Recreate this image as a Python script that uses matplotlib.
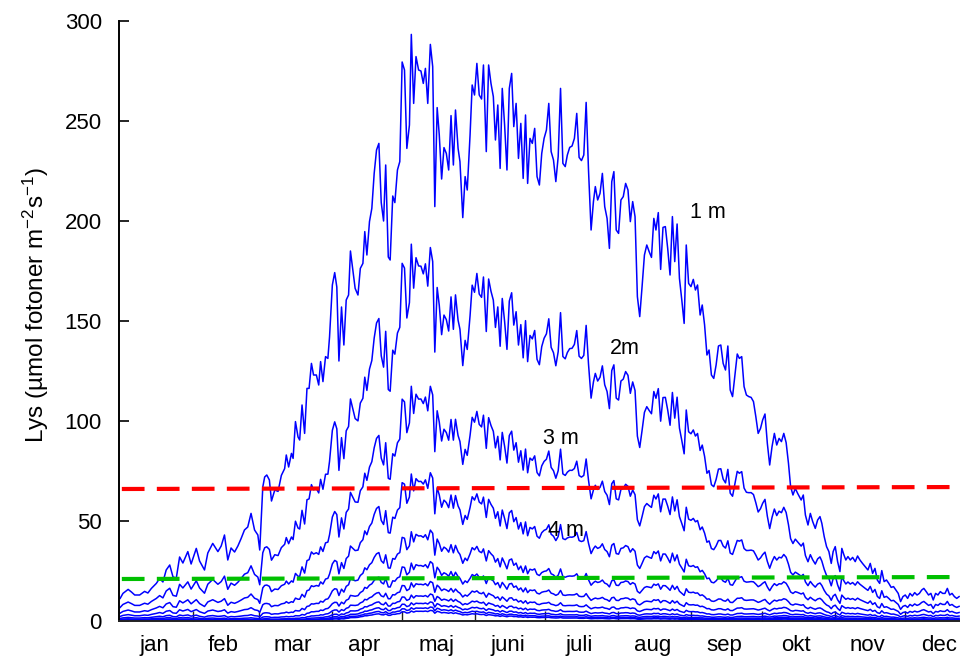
import matplotlib
matplotlib.use("Agg")
import matplotlib.pyplot as plt
import numpy as np

plt.rcParams['font.family'] = ['Liberation Sans', 'DejaVu Sans']
plt.rcParams['mathtext.fontset'] = 'custom'
plt.rcParams['mathtext.rm'] = 'Liberation Sans'
plt.rcParams['mathtext.it'] = 'Liberation Sans'
plt.rcParams['mathtext.default'] = 'regular'

# ---- data -----------------------------------------------------------
# light at 1 m depth (day of year, µmol photons m-2 s-1)
days_1m = [0, 1.2, 3.4, 4.8, 6.2, 8.3, 10.4, 11.8, 13.3, 15.4, 16.8, 18.2, 19.6, 21.1, 22.5,
           23.9, 25.3, 26.7, 28.8, 30.2, 32.4, 33.8, 35.9, 37.3, 39.4, 41.6, 43, 44.4, 45.8,
           47.2, 48.7, 50.1, 51.5, 52.9, 54.3, 55.7, 57.2, 58.6, 59.4, 60.7, 61.5, 62.4, 63.5,
           64.4, 65.8, 67.2, 68.6, 70.0, 70.7, 71.7, 72.9, 73.6, 74.6, 75.7, 76.4, 77.4, 78.5,
           79.5, 80.4, 81.4, 82.3, 83.5, 84.5, 85.3, 86.3, 87.4, 88.4, 89.1, 90.3, 91.3, 92.2,
           93.1, 94.2, 95.2, 96.2, 97.2, 98.0, 99.0, 100.0, 101.2, 102.2, 103.3, 104.1, 105,
           106.1, 107.1, 108.1, 109.1, 110.1, 111.1, 112.1, 113.0, 114.1, 114.9, 116.0, 116.9,
           118.0, 119.0, 120.0, 121.0, 122.0, 123.1, 123.9, 124.9, 125.9, 127, 128, 129, 129.9,
           130.9, 132, 133, 133.9, 134.9, 135.8, 136.8, 137.8, 138.8, 139.8, 140.8, 141.8, 142.7,
           143.8, 144.6, 145.8, 146.8, 147.7, 148.9, 149.8, 150.8, 151.8, 152.8, 153.8, 154.6,
           155.8, 156.8, 157.8, 158.8, 159.7, 160.7, 161.7, 162.6, 163.6, 164.6, 165.6, 166.6,
           167.5, 168.5, 169.5, 170.5, 171.5, 172.5, 173.4, 174.4, 175.4, 176.4, 177.4, 178.4,
           179.4, 180.4, 181.4, 182.4, 183.4, 184.4, 185.4, 186.4, 187.4, 188.4, 189.4, 190.3,
           191.3, 192.3, 193.3, 194.3, 195.3, 196.3, 197.3, 198.3, 199.3, 200.4, 201.4, 202.2,
           203.2, 204.2, 205.2, 206.2, 207.2, 208.2, 209.2, 210.1, 211.1, 212.1, 213.1, 214.1,
           215.1, 216.1, 217.1, 218.1, 219.1, 220.1, 221.1, 222.1, 223.1, 224.1, 225.1, 226.1,
           227.1, 228, 229, 230, 231, 232, 233, 234, 235, 236, 237, 238, 239, 240, 240.9, 241.9,
           242.9, 243.9, 244.8, 245.7, 246.8, 247.7, 248.7, 249.7, 250.6, 251.6, 252.6, 253.6,
           254.6, 255.6, 256.6, 257.6, 258.6, 259.6, 260.6, 261.6, 262.6, 263.5, 264.5, 265.5,
           266.5, 267.5, 268.5, 269.5, 270.5, 271.5, 272.5, 273.4, 274.4, 275.4, 276.4, 277.4,
           278.4, 279.4, 280.4, 281.4, 282.4, 283.4, 284.4, 285.3, 286.3, 287.3, 288.3, 289.8,
           290.7, 291.6, 292.7, 293.7, 294.7, 295.8, 296.8, 297.8, 298.6, 299.6, 300.6, 301.6,
           302.6, 303.4, 304.3, 305.3, 306.3, 307.1, 308, 308.8, 309.7, 310.7, 311.7, 312.8,
           313.8, 314.8, 315.9, 317, 318.2, 319.2, 320.2, 321.2, 322.2, 323.2, 324.1, 325.1,
           326.1, 327.1, 328.1, 329.1, 330.1, 331.1, 332.1, 333.1, 334.1, 335.1, 336.1, 337.1,
           338.1, 339.1, 340.1, 341.1, 342, 343, 344, 345, 346, 347, 348, 349, 350, 351, 352,
           353, 354, 355, 356, 357]
light_1m = [11.3, 13.8, 15.8, 14.5, 13, 13, 14.8, 14, 16.3, 18.8, 21.3, 19.5, 25.5, 28, 22,
            21.5, 32, 29, 34.7, 28.5, 36.3, 30, 25.5, 34, 38.8, 34.7, 37.5, 43, 30.5,
            36.5, 34.5, 37.5, 41.3, 45.5, 47, 53.8, 45.5, 43, 35.5, 67, 72, 73, 70.5,
            60, 65.5, 64.8, 72.8, 76.2, 83, 77, 83.8, 81.3, 99.7, 92, 90.5, 108, 93.8,
            116.3, 116.3, 128.8, 123, 123, 118, 129.7, 119.7, 132.2, 131.3, 142, 168, 174.2, 167,
            130, 157, 138, 160.5, 163, 185, 175.5, 166.3, 163, 176.3, 178.8, 194.7, 183,
            199.7, 206.3, 223.8, 235.5, 238.8, 209.2, 200, 228, 182, 180.5, 212.5, 209.2,
            225.5, 229.7, 279.5, 275.5, 236.3, 248, 293.3, 258.8, 282.2, 275.5, 275, 268.8, 276.3,
            258.8, 288.3, 277.2, 207.2, 256.7, 243, 221, 236.7, 233.8, 225.5, 252.7, 228, 255.5,
            236.3, 229.7, 201.7, 222.2, 215.5, 243, 268, 263, 278.8, 263, 261, 278,
            234.7, 278, 268.8, 262.2, 240.5, 258, 226.3, 266.3, 248, 225.5, 266.3, 273.8,
            247.2, 258.8, 231.3, 248.8, 221.3, 253, 218.8, 241.3, 238.8, 246.3, 222.2, 218,
            233.8, 241.3, 245.5, 258.8, 234.7, 230.5, 219.7, 232.2, 266.3, 228.8, 227.2, 233,
            236.8, 237.5, 241.3, 253.8, 231.8, 230.2, 233, 259.3, 225.5, 195.5, 209.7, 217.2,
            210.5, 213.8, 223.8, 207.2, 201.3, 186.3, 219.7, 224.7, 195.5, 193.8, 210.5, 212.2,
            218.8, 215.5, 199.7, 209.7, 202.2, 162.2, 152.2, 167.2, 183, 188, 184.7, 181.8,
            201.3, 195.5, 204.2, 175.8, 196.8, 197.2, 186.3, 173, 202.2, 179.7, 198.5, 171.3, 160.5, 148.8, 188, 168.8,
            167.2, 170.8, 165.5, 168, 153, 158, 148, 133, 135.5, 123, 121.3, 128,
            137.5, 138, 128.8, 125.5, 137.5, 115.5, 112.2, 123, 133.5, 131.3, 132.2, 117.2,
            113, 112.2, 111.8, 109.7, 102.2, 93.8, 96.3, 100.5, 103.5, 88.8, 78, 87.2,
            93.8, 88, 91.3, 89.7, 93.8, 89.2, 78.8, 67.2, 63, 66.3, 63.8, 60.5,
            63, 53, 48, 53.8, 49.7, 46.3, 50.5, 52.2, 48.8, 42.2, 37.2, 34.7,
            28.8, 34.7, 37.2, 29.7, 24.7, 36.3, 33, 30.5, 32.2, 30.5, 31.8, 29.7,
            32.5, 30.5, 28.8, 27.2, 25.5, 28.8, 23.8, 26.3, 20.5, 18.8, 25.2, 19.7,
            20.5, 18.8, 16.8, 17.2, 15.5, 13.8, 9.7, 12.2, 13, 11.3, 13.8, 12.5,
            14.2, 13, 13.8, 15.5, 16.3, 14.7, 13, 13.8, 10.5, 13.8, 13, 14.7, 13.8, 13.8, 16.3,
            13, 13.8, 12.2, 11.3, 12.2]

# relative light at each depth (1 m = 1), read at the May maximum
depth_factors = [1.0, 0.65, 0.41, 0.26, 0.16, 0.105, 0.07, 0.048, 0.034, 0.025, 0.019]
# 2 m / 1 m ratio read for each month (the water clarity changes over the year)
month_mid_days = [15.5, 45, 74.5, 105, 135.5, 166, 196.5, 227.5, 258, 288.5, 319, 349.5]
ratio_2m = [0.60, 0.52, 0.50, 0.63, 0.65, 0.60, 0.57, 0.57, 0.55, 0.62, 0.60, 0.60]

# horizontal reference levels
ref_days = [-0.7, 365]
red_level = [66.0, 67.0]
green_level = [21.0, 22.0]

months = ['jan', 'feb', 'mar', 'apr', 'maj', 'juni', 'juli', 'aug', 'sep', 'okt', 'nov', 'dec']
month_days = [31, 28, 31, 30, 31, 30, 31, 31, 30, 31, 30, 31]

depth_labels = ['1 m', '2m', '3 m', '4 m']

# ---- figure -----------------------------------------------------------
fig = plt.figure(figsize=(9.6, 6.58), dpi=100)
ax = fig.add_axes([118.5 / 960, 37 / 658, 365.7 * 2.35 / 960, 600 / 658])

d = np.array(days_1m)
v = np.array(light_1m)
r_day = np.interp(d, month_mid_days, ratio_2m)
expo = np.log(r_day) / np.log(depth_factors[1])
for f in depth_factors:
    ax.plot(d, v * f ** expo, color='#0000ff', lw=1.1, zorder=2)

ax.plot(ref_days, red_level, color='#ff0000', lw=3.0,
        linestyle=(7.6, (5.45, 2.95)), zorder=3)
ax.plot(ref_days, green_level, color='#00c000', lw=3.0,
        linestyle=(7.6, (5.45, 2.95)), zorder=3)

lab_fs = 15.5
ax.text(250.2, 204, depth_labels[0], fontsize=lab_fs, ha='center', va='center')
ax.text(214.8, 136.5, depth_labels[1], fontsize=lab_fs, ha='center', va='center')
ax.text(187.6, 91.5, depth_labels[2], fontsize=lab_fs, ha='center', va='center')
ax.text(189.7, 45, depth_labels[3], fontsize=lab_fs, ha='center', va='center')

ax.set_xlim(-0.7, 365)
ax.set_ylim(0, 300)
ax.set_yticks(np.arange(0, 301, 50))
ax.tick_params(axis='y', direction='in', length=7, width=1.2, labelsize=16, pad=12)

bounds = np.concatenate([[0], np.cumsum(month_days)])
centers = (bounds[:-1] + bounds[1:]) / 2 - 1.0
ax.set_xticks(bounds[1:-1])
ax.set_xticklabels([])
ax.tick_params(axis='x', which='major', direction='in', length=7, width=1.0, color='#222222')
ax.set_xticks(centers, minor=True)
ax.set_xticklabels(months, minor=True)
ax.tick_params(axis='x', which='minor', length=0, labelsize=16, pad=10)

for s in ['top', 'right']:
    ax.spines[s].set_visible(False)
ax.spines['left'].set_linewidth(1.4)
ax.spines['bottom'].set_linewidth(1.4)
ax.spines['bottom'].set_color('#222222')

ax.set_ylabel(r'Lys (µmol fotoner m$^{-2}$s$^{-1}$)', fontsize=17.5, va='center')
ax.yaxis.set_label_coords(-0.096, 0.527)

fig.savefig('out.png', dpi=100)
